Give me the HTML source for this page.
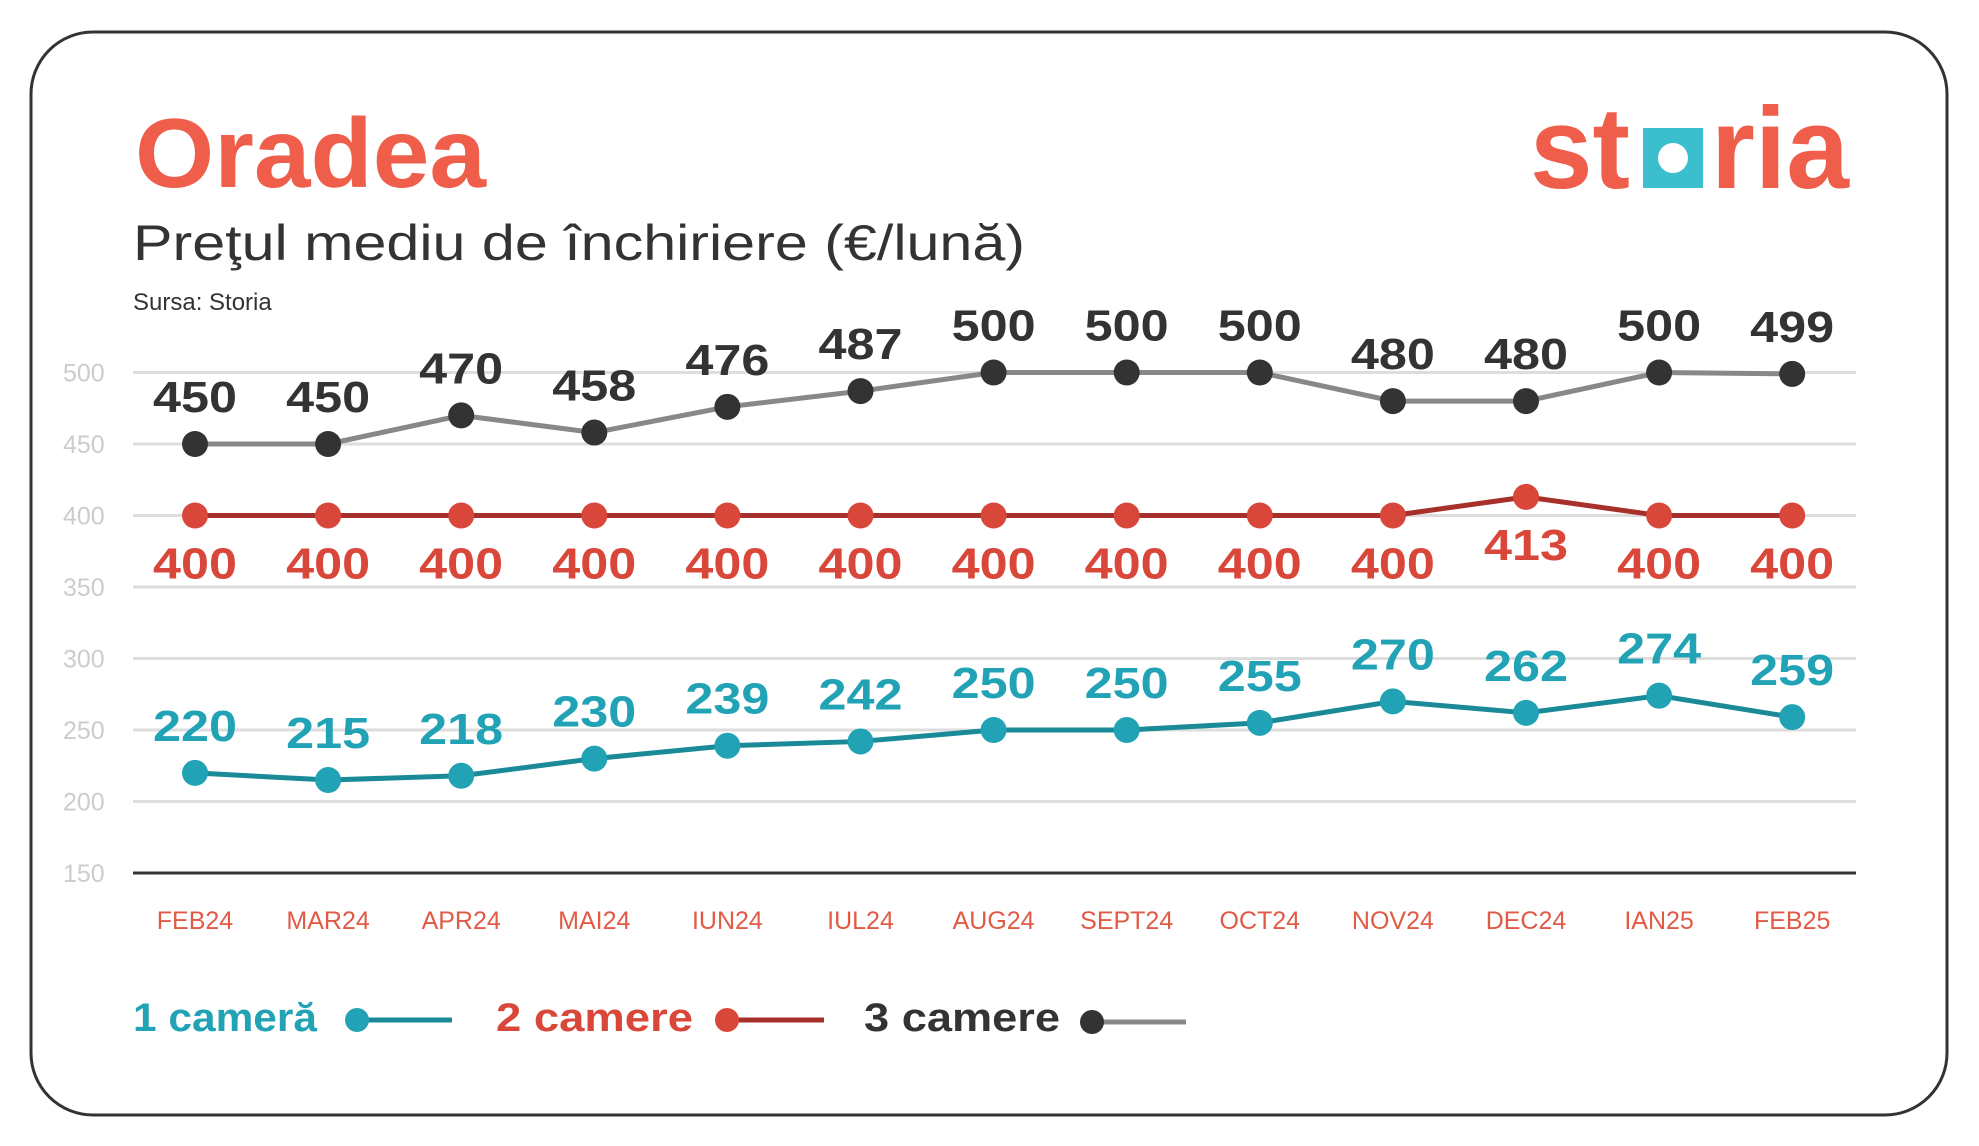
<!DOCTYPE html>
<html><head><meta charset="utf-8"><style>
html,body{margin:0;padding:0;background:#fff;}
svg{display:block;font-family:"Liberation Sans",sans-serif;}
</style></head><body>
<svg id="chart" width="1979" height="1146" viewBox="0 0 1979 1146">
<rect x="31" y="32" width="1916" height="1083" rx="62" fill="#fff" stroke="#333" stroke-width="3"/>
<text x="135" y="187" font-size="98" font-weight="bold" fill="#ef5e4a" textLength="351" lengthAdjust="spacingAndGlyphs">Oradea</text>
<text x="133" y="260" font-size="50" fill="#333" textLength="892" lengthAdjust="spacingAndGlyphs">Preţul mediu de închiriere (€/lună)</text>
<text x="133" y="310" font-size="24" fill="#333">Sursa: Storia</text>
<g>
<text x="1530" y="188" font-size="116" font-weight="bold" fill="#ef5e4a" textLength="100" lengthAdjust="spacingAndGlyphs">st</text>
<rect x="1643" y="128" width="60" height="60" fill="#3bbfcf"/>
<circle cx="1673" cy="158" r="15" fill="#fff"/>
<text x="1711" y="188" font-size="116" font-weight="bold" fill="#ef5e4a" textLength="138" lengthAdjust="spacingAndGlyphs">ria</text>
</g>
<g id="grid"></g><g id="series"></g><g id="labels"></g>
<g>
<text x="133" y="1031" font-size="40" font-weight="bold" fill="#21a3b5" textLength="184" lengthAdjust="spacingAndGlyphs">1 cameră</text>
<line x1="357" y1="1020" x2="452" y2="1020" stroke="#1a8a99" stroke-width="5"/><circle cx="357" cy="1020" r="12" fill="#21a3b5"/>
<text x="496" y="1031" font-size="40" font-weight="bold" fill="#d9473a" textLength="197" lengthAdjust="spacingAndGlyphs">2 camere</text>
<line x1="727" y1="1020" x2="824" y2="1020" stroke="#a8302a" stroke-width="5"/><circle cx="727" cy="1020" r="12" fill="#d9473a"/>
<text x="864" y="1031" font-size="40" font-weight="bold" fill="#333" textLength="196" lengthAdjust="spacingAndGlyphs">3 camere</text>
<line x1="1090" y1="1022" x2="1186" y2="1022" stroke="#888" stroke-width="5"/><circle cx="1092" cy="1022" r="12" fill="#333"/>
</g>
</svg>
<script>
const categories=["FEB24","MAR24","APR24","MAI24","IUN24","IUL24","AUG24","SEPT24","OCT24","NOV24","DEC24","IAN25","FEB25"];
const oneRoom=[220,215,218,230,239,242,250,250,255,270,262,274,259];
const twoRooms=[400,400,400,400,400,400,400,400,400,400,413,400,400];
const threeRooms=[450,450,470,458,476,487,500,500,500,480,480,500,499];
const yTicks=[150,200,250,300,350,400,450,500];
const NS="http://www.w3.org/2000/svg";
function xs(i){return 195+i*133.1;}
function ys(v){return 873-(v-150)*71.5/50;}
function mk(t,a,p){const e=document.createElementNS(NS,t);for(const k in a)e.setAttribute(k,a[k]);if(p)p.appendChild(e);return e;}
const grid=document.getElementById('grid'),ser=document.getElementById('series'),lab=document.getElementById('labels');
yTicks.forEach(v=>{
 if(v>150){const l=mk('line',{x1:133,x2:1856,y1:ys(v),y2:ys(v),stroke:'#ddd','stroke-width':3},grid);
 
 }
 const t=mk('text',{x:63,y:ys(v)+9,'font-size':25,fill:'#ccc'},grid);t.textContent=v;
 
 
});
const ax=mk('line',{x1:133,x2:1856,y1:873,y2:873,stroke:'#333','stroke-width':3},grid);


categories.forEach((c,i)=>{const t=mk('text',{x:xs(i),y:929,'font-size':25,fill:'#e05a45','text-anchor':'middle'},grid);t.textContent=c;
 
 });
function draw(vals,line,dot,lc,off,name){
 const pl=mk('polyline',{points:vals.map((v,i)=>xs(i)+','+ys(v)).join(' '),fill:'none',stroke:line,'stroke-width':5},ser);
 
 
 vals.forEach((v,i)=>{const c=mk('circle',{cx:xs(i),cy:ys(v),r:13,fill:dot},ser);
  
  
  const t=mk('text',{x:xs(i),y:ys(v)+off,'font-size':44,'font-weight':'bold',fill:lc,'text-anchor':'middle',textLength:84,lengthAdjust:'spacingAndGlyphs'},lab);t.textContent=v;
  
  });
}
draw(oneRoom,'#1a8a99','#21a3b5','#21a3b5',-32,'one-room');
draw(twoRooms,'#a8302a','#d9473a','#d9473a',63,'two-rooms');
draw(threeRooms,'#888','#333','#333',-32,'three-rooms');
</script>
</body></html>
